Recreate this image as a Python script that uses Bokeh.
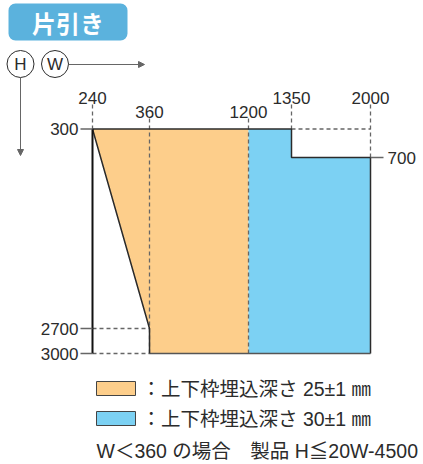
import numpy as np
from bokeh.plotting import figure
from bokeh.models import Range1d, Arrow, NormalHead
from bokeh.core.properties import value
from bokeh.embed import file_html
from bokeh.resources import INLINE

# ---------------- data ----------------
W_TICKS = [240, 360, 1200, 1350, 2000]
H_TICKS_LEFT = [300, 2700, 3000]
H_TICKS_RIGHT = [700]
H_ALL = [300, 700, 2700, 3000]

ORANGE_W = [240, 1200, 1200, 360, 360, 240]
ORANGE_H = [300, 300, 3000, 3000, 2700, 300]
BLUE_W = [1200, 1350, 1350, 2000, 2000, 1200]
BLUE_H = [300, 300, 700, 700, 3000, 3000]

TITLE = "片引き"
LEGEND_LABELS = ["：上下枠埋込深さ 25±1 ㎜", "：上下枠埋込深さ 30±1 ㎜"]
NOTE = "W＜360 の場合　製品 H≦20W-4500"

# ---------------- schematic scale (layout) ----------------
W_PX = [92, 149, 248, 291, 370]
H_PX = [128.5, 157, 328, 353]
W_TIER = [0, 1, 1, 0, 0]  # staggered label rows


def wx(v):
    return np.interp(np.asarray(v, dtype=float), W_TICKS, W_PX)


def hy(v):
    return np.interp(np.asarray(v, dtype=float), H_ALL, H_PX)


NUM_FONT = value("Liberation Sans")
JP_FONT = value("Noto Sans CJK JP")
MIX_FONT = value("Liberation Sans, Noto Sans CJK JP")
ORANGE = "#FDCE8B"
BLUE = "#7CD1F3"
DARK = "#2b2b2b"
GRAY = "#666666"

W, H = 423, 464
p = figure(width=W, height=H, output_backend="svg", toolbar_location=None,
           x_range=Range1d(0, W), y_range=Range1d(H, 0),
           x_axis_location=None, y_axis_location=None, min_border=0,
           outline_line_color=None)
p.grid.visible = False

# title badge
p.quad(left=[8], right=[127], top=[3], bottom=[40], fill_color="#5BB2DD",
       line_color=None, border_radius=7)
p.text(x=[67.5], y=[22], text=[TITLE], text_font=JP_FONT, text_font_size="24px",
       text_color="white", text_align="center", text_baseline="middle",
       text_font_style="bold")

# H / W circles and arrows
p.circle(x=[20, 54.5], y=[63.5, 63.5], radius=13.5, fill_color="white",
         line_color=DARK, line_width=1)
p.text(x=[20, 54.5], y=[64, 64], text=["H", "W"], text_font=NUM_FONT,
       text_font_size="17px", text_align="center", text_baseline="middle",
       text_color=DARK)
p.add_layout(Arrow(end=NormalHead(size=6, fill_color=GRAY, line_color=GRAY),
                   x_start=68, y_start=64, x_end=144, y_end=64,
                   line_color=GRAY, line_width=1))
p.add_layout(Arrow(end=NormalHead(size=6, fill_color=GRAY, line_color=GRAY),
                   x_start=20, y_start=77, x_end=20, y_end=155,
                   line_color=GRAY, line_width=1))

# regions
p.patch(wx(ORANGE_W), hy(ORANGE_H), fill_color=ORANGE, line_color=None)
p.patch(wx(BLUE_W), hy(BLUE_H), fill_color=BLUE, line_color=None)

# dashed guides
dash = dict(line_color=GRAY, line_width=1.3, line_dash="4 3")
tier_bottom = [104, 118]
for v, t in zip(W_TICKS, W_TIER):
    if v in (360, 1200):
        y_end = hy(3000)
    elif v == 2000:
        y_end = hy(700)
    else:
        y_end = hy(300)
    p.line([wx(v), wx(v)], [tier_bottom[t], y_end], **dash)
p.line(wx([1350, 2000]), hy([300, 300]), **dash)
p.line(wx([240, 360]), hy([2700, 2700]), **dash)
p.line(wx([240, 360]), hy([3000, 3000]), **dash)

# outlines
p.line(wx([240, 1350, 1350, 2000, 2000]), hy([300, 300, 700, 700, 3000]),
       line_color=DARK, line_width=1.5)
p.line(wx([360, 2000]), hy([3000, 3000]), line_color="#555555", line_width=1.5)
p.line(wx([240, 360, 360]), hy([300, 2700, 3000]), line_color=DARK, line_width=1.5)
p.line(wx([240, 240]), hy([300, 3000]), line_color="#111111", line_width=2)

# ticks
for h in H_TICKS_LEFT:
    p.line([80, wx(240)], [hy(h), hy(h)], line_color=GRAY, line_width=1.3)
for h in H_TICKS_RIGHT:
    p.line([wx(2000), 383], [hy(h), hy(h)], line_color=GRAY, line_width=1.3)

# tick labels
tier_y = [103, 117]
p.text(x=wx(W_TICKS), y=[tier_y[t] for t in W_TIER], text=[str(v) for v in W_TICKS],
       text_font=NUM_FONT, text_font_size="17px", text_align="center",
       text_baseline="bottom", text_color=DARK)
p.text(x=[78] * len(H_TICKS_LEFT), y=hy(H_TICKS_LEFT), text=[str(v) for v in H_TICKS_LEFT],
       text_font=NUM_FONT, text_font_size="17px", text_align="right",
       text_baseline="middle", text_color=DARK)
p.text(x=[387], y=hy(H_TICKS_RIGHT), text=[str(v) for v in H_TICKS_RIGHT],
       text_font=NUM_FONT, text_font_size="17px", text_align="left",
       text_baseline="middle", text_color=DARK)

# legend
p.quad(left=[96, 96], right=[135, 135], top=[381, 411], bottom=[395, 425],
       fill_color=[ORANGE, BLUE], line_color="#444444", line_width=1)
p.text(x=[141, 141], y=[388, 418], text=LEGEND_LABELS, text_font=MIX_FONT,
       text_font_size="19.5px", text_align="left", text_baseline="middle",
       text_color=DARK)
p.text(x=[96], y=[450], text=[NOTE], text_font=MIX_FONT, text_font_size="19.5px",
       text_align="left", text_baseline="middle", text_color=DARK)

open("out.html", "w").write(file_html(p, INLINE))
